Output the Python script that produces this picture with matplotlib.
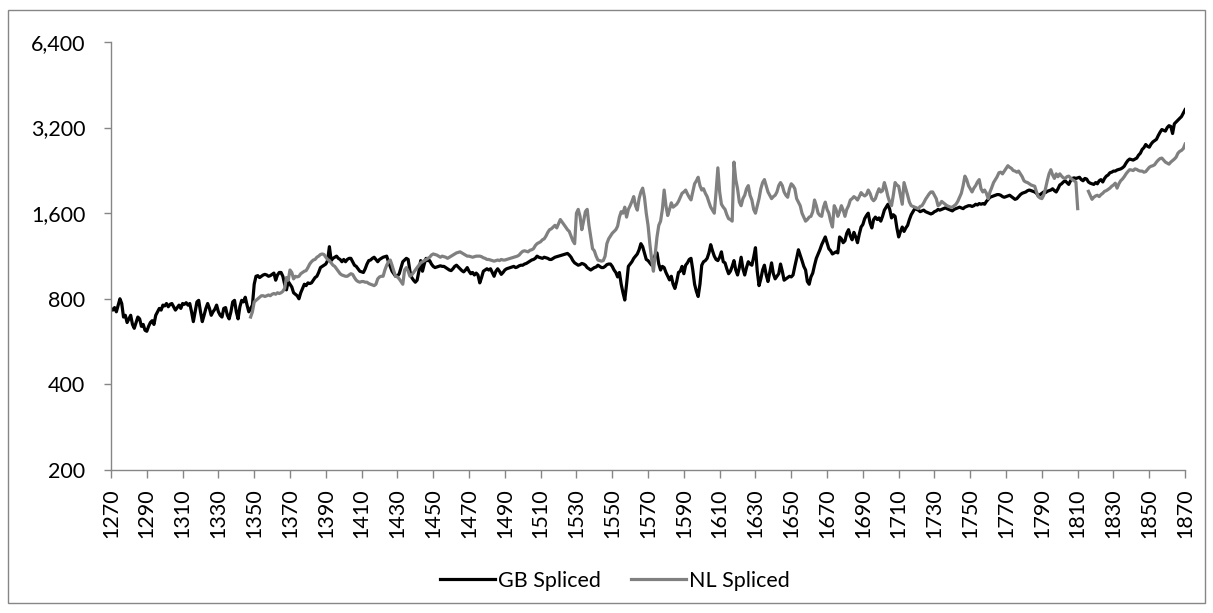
import numpy as np
import matplotlib
matplotlib.use('Agg')
import matplotlib.pyplot as plt
from matplotlib.ticker import FuncFormatter, NullLocator
from matplotlib.patches import Rectangle

# GB Spliced, one value per year from 1270 to 1870
gb_start = 1270
gb = [
    740, 730, 745, 720, 760, 800, 770, 690, 700, 660,
    680, 700, 650, 630, 660, 690, 680, 640, 650, 620,
    615, 640, 660, 670, 650, 700, 720, 740, 730, 760,
    755, 770, 750, 765, 770, 750, 730, 745, 760, 740,
    770, 765, 775, 760, 770, 720, 665, 720, 780, 790,
    720, 665, 700, 740, 770, 740, 700, 720, 735, 760,
    720, 700, 690, 740, 745, 700, 680, 720, 780, 790,
    720, 680, 750, 790, 780, 810, 760, 720, 740, 760,
    900, 960, 965, 950, 960, 970, 975, 970, 960, 965,
    975, 985, 930, 970, 990, 990, 960, 900, 860, 920,
    900, 880, 840, 830, 820, 800, 840, 870, 900, 890,
    910, 905, 910, 930, 950, 960, 990, 1030, 1040, 1050,
    1060, 1090, 1220, 1090, 1110, 1120, 1130, 1110, 1100, 1080,
    1100, 1080, 1100, 1110, 1110, 1080, 1050, 1040, 1020, 1000,
    995, 990, 1020, 1060, 1090, 1095, 1110, 1120, 1100, 1080,
    1100, 1110, 1120, 1125, 1130, 1080, 1040, 1000, 980, 960,
    960, 980, 1030, 1080, 1095, 1110, 1100, 1000, 950, 930,
    915, 930, 1000, 1090, 1000, 1060, 1110, 1090, 1090, 1060,
    1040, 1030, 1035, 1040, 1045, 1040, 1040, 1030, 1020, 1010,
    1005, 1020, 1040, 1050, 1035, 1020, 1005, 995, 1010, 1030,
    1000, 980, 990, 970, 985, 970, 910, 950, 1000, 1010,
    1020, 1010, 1020, 990, 960, 1000, 1020, 1000, 975, 990,
    1010, 1020, 1025, 1030, 1035, 1040, 1030, 1035, 1045, 1050,
    1050, 1060, 1065, 1075, 1085, 1095, 1100, 1110, 1130, 1120,
    1115, 1110, 1120, 1115, 1110, 1100, 1100, 1110, 1120, 1125,
    1130, 1135, 1140, 1145, 1150, 1155, 1140, 1120, 1090, 1070,
    1060, 1050, 1055, 1065, 1060, 1050, 1030, 1020, 1010, 1020,
    1030, 1035, 1050, 1040, 1030, 1030, 1040, 1055, 1060, 1060,
    1040, 1010, 990, 955, 990, 900, 840, 792, 900, 1040,
    1060, 1080, 1110, 1130, 1150, 1190, 1250, 1220, 1160, 1100,
    1090, 1070, 1050, 1100, 1140, 1160, 1060, 1010, 1040, 1030,
    990, 960, 932, 960, 900, 870, 920, 990, 1000, 1040,
    980, 1050, 1070, 1100, 1110, 1010, 900, 850, 815, 900,
    1050, 1080, 1090, 1110, 1160, 1240, 1180, 1130, 1100, 1090,
    1120, 1170, 1080, 1070, 1020, 980, 1000, 1040, 1090, 1010,
    970, 1030, 1120, 1020, 970, 1030, 1080, 1060, 1050, 1120,
    1210, 1000, 890, 940, 1010, 1050, 970, 920, 990, 1070,
    980, 940, 960, 980, 1060, 1000, 930, 940, 950, 960,
    955, 970, 1040, 1110, 1190, 1140, 1090, 1040, 1010, 920,
    900, 955, 985, 1050, 1110, 1150, 1190, 1240, 1280, 1320,
    1260, 1200, 1180, 1150, 1160, 1170, 1160, 1320, 1300, 1260,
    1280, 1360, 1400, 1330, 1290, 1370, 1320, 1260, 1350, 1430,
    1460, 1530, 1570, 1600, 1480, 1420, 1520, 1550, 1520, 1540,
    1500, 1560, 1640, 1680, 1720, 1650, 1540, 1580, 1560, 1420,
    1320, 1380, 1430, 1380, 1420, 1450, 1520, 1580, 1620, 1660,
    1650, 1640, 1620, 1630, 1640, 1620, 1610, 1600, 1590, 1600,
    1620, 1630, 1650, 1640, 1650, 1660, 1670, 1660, 1650, 1640,
    1630, 1650, 1660, 1670, 1680, 1670, 1660, 1680, 1690, 1700,
    1700, 1690, 1700, 1720, 1710, 1730, 1720, 1730, 1720, 1760,
    1790, 1820, 1830, 1840, 1850, 1860, 1860, 1850, 1830, 1820,
    1830, 1840, 1850, 1830, 1810, 1790, 1800, 1830, 1860, 1880,
    1890, 1900, 1920, 1930, 1920, 1910, 1900, 1880, 1840, 1860,
    1880, 1900, 1890, 1910, 1920, 1930, 1950, 1920, 1900, 1950,
    2010, 2030, 2060, 2080, 2050, 2020, 2080, 2120, 2130, 2120,
    2130, 2140, 2100, 2080, 2120, 2110, 2060, 2040, 2030, 2020,
    2050, 2030, 2080, 2100, 2060, 2120, 2160, 2180, 2220, 2230,
    2250, 2250, 2270, 2280, 2290, 2310, 2340, 2400, 2450, 2480,
    2470, 2460, 2480, 2500, 2560, 2600, 2680, 2720, 2790, 2750,
    2730, 2800, 2850, 2880, 2910, 3000, 3080, 3150, 3130, 3110,
    3200, 3250, 3230, 3050, 3300, 3350, 3400, 3450, 3500, 3600,
    3700,
]

# NL Spliced, one value per year from 1348 to 1870 (gap 1811-1815)
nl_start = 1348
nl = [
    690, 720,
    780, 790, 800, 810, 820, 820, 815, 820, 825, 820,
    830, 835, 830, 840, 835, 840, 850, 870, 950, 930,
    1010, 990, 940, 960, 955, 960, 980, 990, 1000, 1005,
    1030, 1060, 1080, 1095, 1100, 1120, 1130, 1145, 1150, 1145,
    1120, 1100, 1090, 1070, 1050, 1040, 1020, 1000, 980, 970,
    965, 960, 960, 970, 980, 975, 950, 930, 920, 915,
    920, 920, 915, 915, 905, 900, 895, 890, 900, 940,
    955, 960, 960, 1010, 1050, 1080, 1095, 1050, 1000, 960,
    955, 940, 920, 900, 1010, 1030, 1000, 960, 970, 990,
    1010, 1030, 1050, 1070, 1080, 1090, 1100, 1110, 1120, 1140,
    1150, 1145, 1140, 1130, 1120, 1130, 1125, 1120, 1110, 1120,
    1130, 1140, 1150, 1160, 1165, 1170, 1160, 1150, 1140, 1130,
    1130, 1125, 1120, 1125, 1130, 1130, 1130, 1125, 1115, 1110,
    1100, 1100, 1095, 1090, 1085, 1090, 1095, 1090, 1100, 1095,
    1095, 1100, 1105, 1110, 1115, 1120, 1125, 1130, 1140, 1160,
    1175, 1180, 1175, 1170, 1185, 1190, 1200, 1230, 1250, 1260,
    1270, 1290, 1300, 1330, 1370, 1400, 1410, 1430, 1450, 1420,
    1470, 1520, 1490, 1460, 1430, 1400, 1380, 1330, 1280, 1250,
    1600, 1650, 1560, 1400, 1500, 1620, 1650, 1450, 1320, 1200,
    1180, 1130, 1095, 1090, 1085, 1090, 1130, 1250, 1300, 1330,
    1360, 1380, 1400, 1440, 1550, 1620, 1600, 1680, 1550, 1650,
    1700, 1760, 1830, 1700, 1640, 1800, 1900, 1960, 1820, 1600,
    1450, 1250, 1100, 1000, 1150, 1320, 1450, 1500, 1650, 1930,
    1700, 1570, 1650, 1740, 1680, 1700, 1720, 1760, 1820, 1880,
    1900, 1930, 1870, 1820, 1782, 1900, 2030, 2080, 2140, 2000,
    1930, 1950, 1880, 1830, 1750, 1680, 1640, 1600, 1900, 2310,
    1900, 1720, 1680, 1650, 1580, 1530, 1520, 1500, 2420, 2100,
    1950, 1750, 1700, 1800, 1850, 1950, 2000, 1850, 1780, 1650,
    1600, 1700, 1800, 1950, 2050, 2100, 2000, 1900, 1850, 1800,
    1830, 1850, 1900, 2000, 2050, 2000, 1900, 1850, 1820, 1950,
    2030, 2000, 1950, 1800, 1750, 1700, 1600, 1550, 1500, 1520,
    1550, 1560, 1620, 1780, 1700, 1600, 1570, 1560, 1680, 1750,
    1650, 1600, 1500, 1430, 1700, 1650, 1560, 1620, 1700, 1640,
    1560, 1650, 1700, 1780, 1800, 1830, 1810, 1780, 1830, 1890,
    1860, 1840, 1860, 1930, 1880, 1800, 1770, 1800, 1880, 1950,
    1900, 1920, 2050, 1950, 1830, 1750, 1700, 1850, 2050, 2010,
    1990, 1850, 1720, 2050, 1950, 1850, 1750, 1700, 1690, 1680,
    1670, 1660, 1690, 1700, 1740, 1790, 1830, 1870, 1900, 1900,
    1850, 1800, 1700, 1720, 1760, 1740, 1720, 1700, 1690, 1680,
    1680, 1700, 1720, 1760, 1820, 1880, 2000, 2160, 2100, 2000,
    1950, 1900, 1960, 2000, 2060, 2100, 1950, 1900, 1930, 1880,
    1800, 1900, 1970, 2050, 2100, 2150, 2220, 2230, 2200, 2250,
    2300, 2350, 2320, 2300, 2260, 2250, 2230, 2250, 2200, 2150,
    2080, 2060, 2050, 2030, 2010, 2000, 1990, 1900, 1830, 1810,
    1800, 1850, 1950, 2080, 2200, 2275, 2180, 2120, 2200, 2150,
    2200, 2160, 2130, 2120, 2150, 2160, 2130, 2100, 2080, 2060,
    1660, np.nan, np.nan, np.nan, np.nan, np.nan, 1910, 1850, 1790, 1820,
    1840, 1850, 1830, 1860, 1880, 1910, 1920, 1940, 1960, 1990,
    2010, 2040, 1960, 2030, 2080, 2110, 2150, 2200, 2240, 2275,
    2270, 2260, 2290, 2280, 2260, 2250, 2250, 2230, 2240, 2280,
    2320, 2340, 2350, 2370, 2420, 2460, 2490, 2500, 2460, 2420,
    2400, 2380, 2420, 2450, 2480, 2520, 2600, 2640, 2660, 2700,
    2800,
]

y_ticks = [200, 400, 800, 1600, 3200, 6400]
x_ticks = list(range(1270, 1871, 20))

plt.rcParams['font.family'] = ['Lato', 'DejaVu Sans']

fig = plt.figure(figsize=(12.13, 6.13), dpi=100)
ax = fig.add_axes([0.0915, 0.2333, 0.8855, 0.6982])

gb_years = gb_start + np.arange(len(gb))
nl_years = nl_start + np.arange(len(nl))
ax.plot(gb_years, gb, color='black', lw=2.3, label='GB Spliced', solid_joinstyle='round')
ax.plot(nl_years, nl, color='#808080', lw=2.3, label='NL Spliced', solid_joinstyle='round')

ax.set_yscale('log', base=2)
ax.set_ylim(200, 6400)
ax.set_yticks(y_ticks)
ax.yaxis.set_minor_locator(NullLocator())
ax.yaxis.set_major_formatter(FuncFormatter(lambda v, p: '{:,.0f}'.format(v)))
ax.set_xlim(1270, 1870)
ax.set_xticks(x_ticks)
ax.set_xticklabels([str(t) for t in x_ticks], rotation=90)

for s in ['top', 'right']:
    ax.spines[s].set_visible(False)
for s in ['left', 'bottom']:
    ax.spines[s].set_color('#868686')
    ax.spines[s].set_linewidth(1)
ax.tick_params(axis='both', colors='#868686', labelcolor='black', labelsize=15.5, length=5.4, width=1)
ax.tick_params(axis='y', pad=13)
ax.tick_params(axis='x', pad=8)

fig.legend(*ax.get_legend_handles_labels(), loc='center', bbox_to_anchor=(615 / 1213, 1 - 581 / 613),
           ncol=2, frameon=False, fontsize=15.5, handlelength=2.55, columnspacing=1.4,
           handletextpad=0.15, borderpad=0)

fig.patches.append(Rectangle((8 / 1213, 10 / 613), 1197 / 1213, 593 / 613, transform=fig.transFigure,
                             fill=False, edgecolor='#868686', lw=1))

fig.savefig('out.png', dpi=100)
